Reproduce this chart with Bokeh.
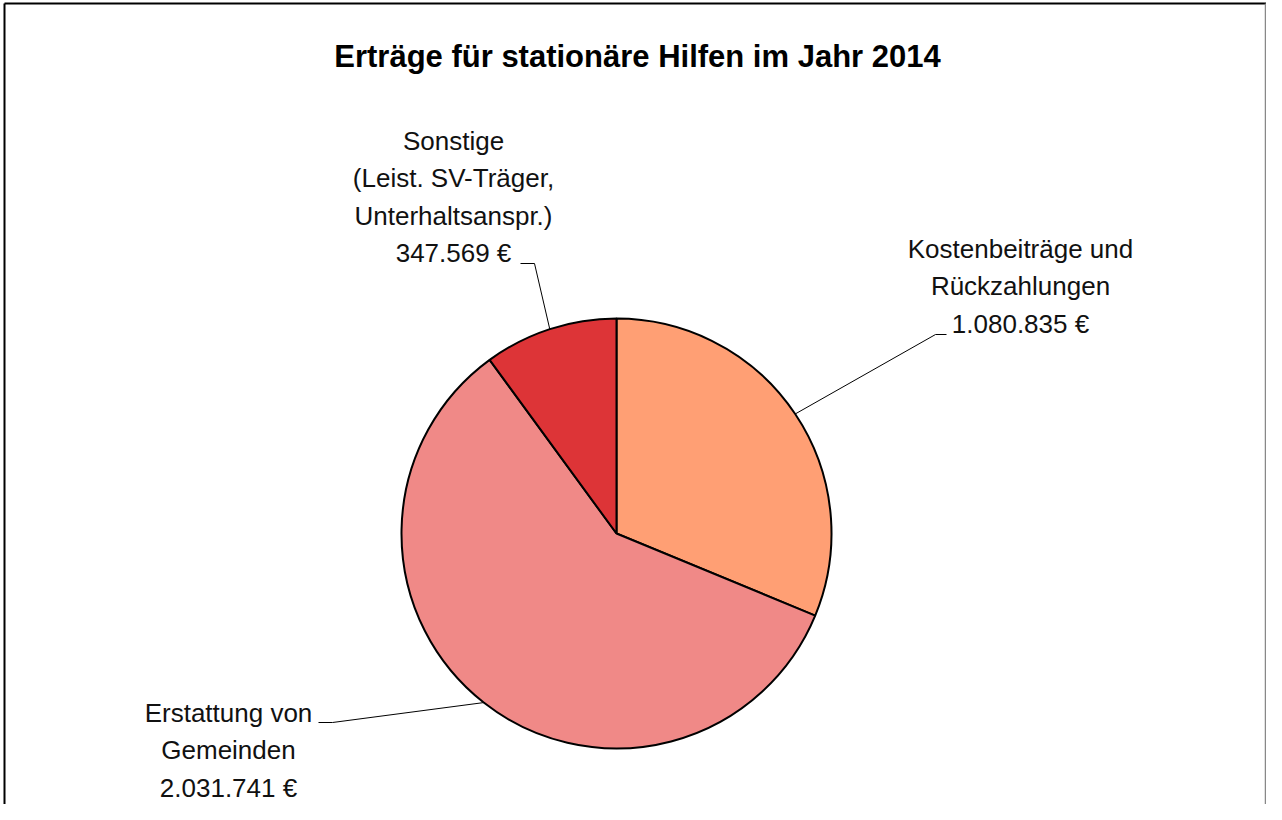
import math
from bokeh.plotting import figure
from bokeh.models import Range1d, ColumnDataSource
from bokeh.core.properties import value
from bokeh.embed import file_html
from bokeh.resources import INLINE

# ---- data ----
title_text = "Erträge für stationäre Hilfen im Jahr 2014"
categories = ["Kostenbeiträge und Rückzahlungen",
              "Erstattung von Gemeinden",
              "Sonstige (Leist. SV-Träger, Unterhaltsanspr.)"]
amounts = [1080835, 2031741, 347569]
amount_labels = ["1.080.835 €", "2.031.741 €", "347.569 €"]
label_lines = [["Kostenbeiträge und", "Rückzahlungen", amount_labels[0]],
               ["Erstattung von", "Gemeinden", amount_labels[1]],
               ["Sonstige", "(Leist. SV-Träger,", "Unterhaltsanspr.)", amount_labels[2]]]
colors = ["#FF9F74", "#F08987", "#DD3437"]

# ---- layout (data units == screenshot pixels; y downward, negated) ----
W, H = 1266, 804
p = figure(width=W, height=H, output_backend="svg", toolbar_location=None,
           x_range=Range1d(0, W), y_range=Range1d(-H, 0),
           min_border=0)
p.axis.visible = False
p.grid.visible = False
p.outline_line_color = None
p.background_fill_color = "white"
p.border_fill_color = "white"

# frame (left/top dark, right grey)
p.line([4, 4], [-H, -3], line_color="#000000", line_width=2)
p.line([4, W], [-3, -3], line_color="#000000", line_width=2)
p.line([W - 1, W - 1], [-3, -H], line_color="#888888", line_width=1.5)

cx, cy, r = 616, -533, 215
total = sum(amounts)
starts, ends = [], []
a = math.pi / 2
for v in amounts:
    b = a - 2 * math.pi * v / total
    starts.append(b)
    ends.append(a)
    a = b

src = ColumnDataSource(dict(start=starts, end=ends, color=colors, cat=categories))
p.wedge(x=cx, y=cy, radius=r, start_angle="start", end_angle="end",
        fill_color="color", line_color="black", line_width=2, source=src)

# title
p.text(x=[637], y=[-56], text=[title_text], text_font=value("Liberation Sans"),
       text_font_style="bold", text_font_size="31px", text_align="center",
       text_baseline="middle", text_color="#000000")

# labels
label_pos = [(1020, 248), (228, 712), (453, 140)]
spacing = 37.5
fs = "26px"
for lines, (lx, ly) in zip(label_lines, label_pos):
    xs = [lx] * len(lines)
    ys = [-(ly + i * spacing) for i in range(len(lines))]
    p.text(x=xs, y=ys, text=lines, text_font=value("Liberation Sans"),
           text_font_size=fs, text_align="center", text_baseline="middle",
           text_color="#111111")

# leader lines: from slice edge (mid angle) to label
def edge_point(i, frac):
    ang = starts[i] + (ends[i] - starts[i]) * frac
    return cx + r * math.cos(ang), cy + r * math.sin(ang)

ex0, ey0 = edge_point(0, 0.5)
ex1, ey1 = edge_point(1, 0.5)
ex2, ey2 = edge_point(2, 0.5)
p.line([ex0, 935, 946], [ey0, -334, -334], line_color="black", line_width=1)
p.line([ex1, 332, 318], [ey1, -722, -722], line_color="black", line_width=1)
p.line([ex2, 534, 520], [ey2, -263, -263], line_color="black", line_width=1)

open("out.html", "w").write(file_html(p, INLINE))
